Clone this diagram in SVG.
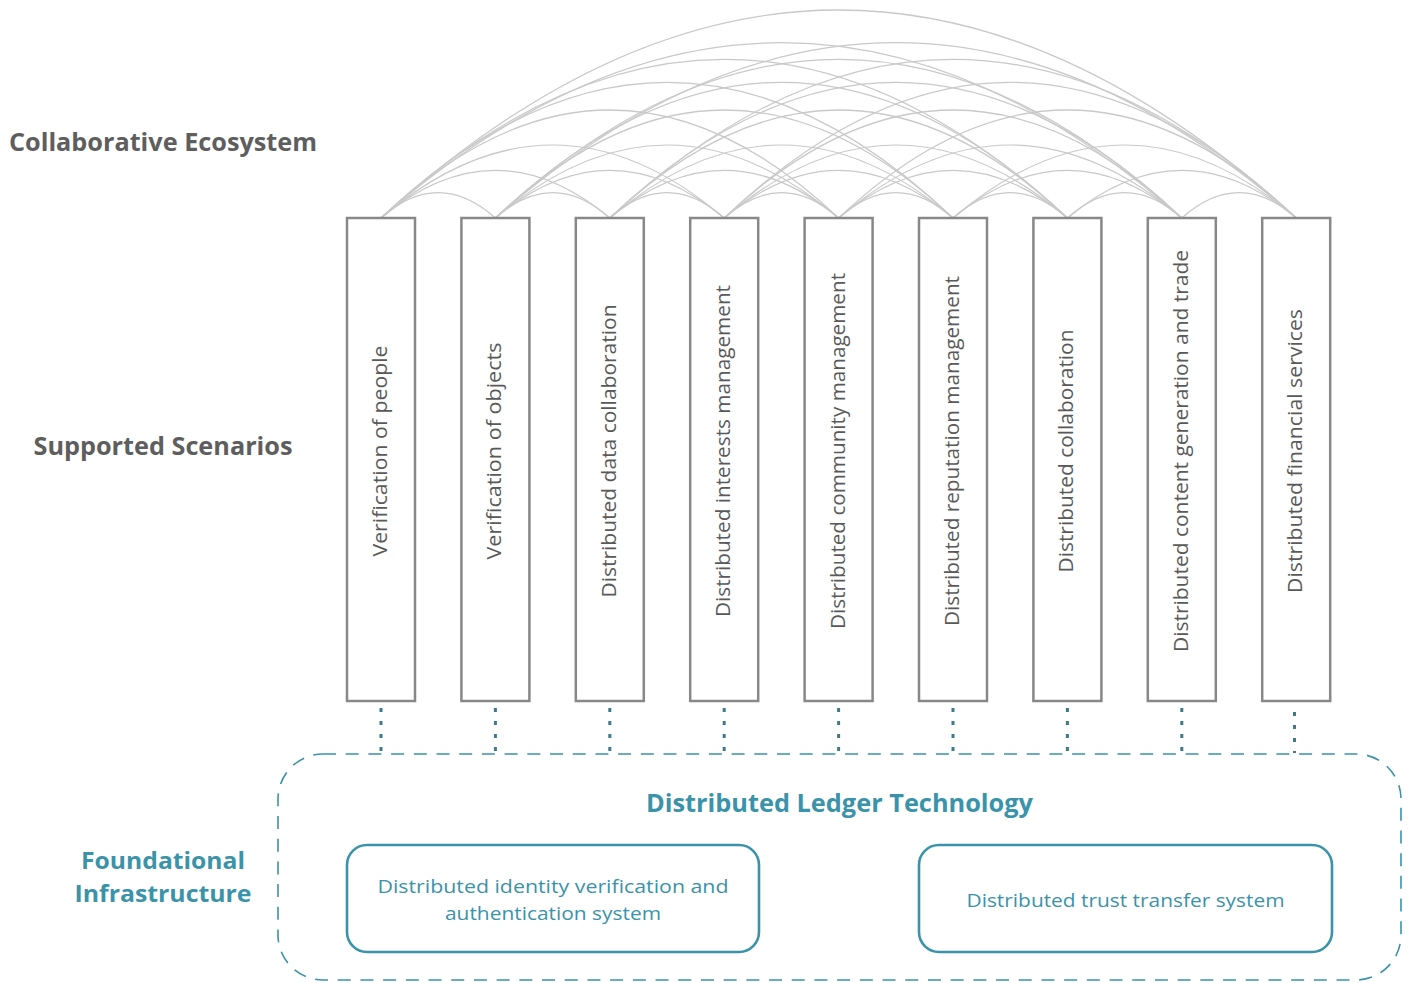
<svg xmlns="http://www.w3.org/2000/svg" width="1410" height="983" viewBox="0 0 1410 983">
<style>
.bg{fill:#ffffff}
.arc{fill:none;stroke:#c9c9c9;stroke-width:1.2}
.box{fill:#ffffff;stroke:#888888;stroke-width:2.5}
.btxt{font-family:"Open Sans","Noto Sans",sans-serif;font-size:20px;fill:#595959;text-anchor:middle}
.head{font-family:"Open Sans","Noto Sans",sans-serif;font-size:25px;font-weight:700;fill:#5e5e5e;text-anchor:middle}
.teal{font-family:"Open Sans","Noto Sans",sans-serif;font-size:25px;font-weight:700;fill:#3a93a9;text-anchor:middle}
.found{font-family:"Open Sans","Noto Sans",sans-serif;font-size:23px;font-weight:700;fill:#3a93a9;text-anchor:middle}
.itxt{font-family:"Open Sans","Noto Sans",sans-serif;font-size:19px;fill:#3a93a9;text-anchor:middle}
.dot{stroke:#3d7b8b;stroke-width:3;stroke-dasharray:4 9;fill:none}
.outer{fill:none;stroke:#3a93a9;stroke-width:1.6;stroke-dasharray:13 9.7}
.inner{fill:#ffffff;stroke:#3a93a9;stroke-width:2.6}
</style>
<rect class="bg" x="0" y="0" width="1410" height="983"/>

<g id="labels">
<text class="head" x="163" y="151" textLength="308" lengthAdjust="spacingAndGlyphs">Collaborative Ecosystem</text>
<text class="head" x="163" y="455" textLength="259" lengthAdjust="spacingAndGlyphs">Supported Scenarios</text>
<text class="found" x="163" y="869" textLength="164" lengthAdjust="spacingAndGlyphs">Foundational</text>
<text class="found" x="163" y="902" textLength="177" lengthAdjust="spacingAndGlyphs">Infrastructure</text>
</g>

<g id="connectors">
<path class="arc" d="M381 218 Q438.2 167.4 495.4 218"/>
<path class="arc" d="M495.4 218 Q552.6 167.4 609.8 218"/>
<path class="arc" d="M609.8 218 Q667 167.4 724.2 218"/>
<path class="arc" d="M724.2 218 Q781.4 167.4 838.6 218"/>
<path class="arc" d="M838.6 218 Q895.8 167.4 953 218"/>
<path class="arc" d="M953 218 Q1010.2 167.4 1067.4 218"/>
<path class="arc" d="M1067.4 218 Q1124.6 167.4 1181.8 218"/>
<path class="arc" d="M1181.8 218 Q1239 167.4 1296.2 218"/>

<path class="arc" d="M381 218 Q495.4 122.6 609.8 218"/>
<path class="arc" d="M495.4 218 Q609.8 122.6 724.2 218"/>
<path class="arc" d="M609.8 218 Q724.2 122.6 838.6 218"/>
<path class="arc" d="M724.2 218 Q838.6 122.6 953 218"/>
<path class="arc" d="M838.6 218 Q953 122.6 1067.4 218"/>
<path class="arc" d="M953 218 Q1067.4 122.6 1181.8 218"/>
<path class="arc" d="M1067.4 218 Q1181.8 122.6 1296.2 218"/>

<path class="arc" d="M381 218 Q552.6 72 724.2 218"/>
<path class="arc" d="M495.4 218 Q667 72 838.6 218"/>
<path class="arc" d="M609.8 218 Q781.4 72 953 218"/>
<path class="arc" d="M724.2 218 Q895.8 72 1067.4 218"/>
<path class="arc" d="M838.6 218 Q1010.2 72 1181.8 218"/>
<path class="arc" d="M953 218 Q1124.6 72 1296.2 218"/>

<path class="arc" d="M381 218 Q609.8 2 838.6 218"/>
<path class="arc" d="M495.4 218 Q724.2 2 953 218"/>
<path class="arc" d="M609.8 218 Q838.6 2 1067.4 218"/>
<path class="arc" d="M724.2 218 Q953 2 1181.8 218"/>
<path class="arc" d="M838.6 218 Q1067.4 2 1296.2 218"/>

<path class="arc" d="M381 218 Q667 -53.4 953 218"/>
<path class="arc" d="M495.4 218 Q781.4 -53.4 1067.4 218"/>
<path class="arc" d="M609.8 218 Q895.8 -53.4 1181.8 218"/>
<path class="arc" d="M724.2 218 Q1010.2 -53.4 1296.2 218"/>

<path class="arc" d="M381 218 Q724.2 -99.4 1067.4 218"/>
<path class="arc" d="M495.4 218 Q838.6 -99.4 1181.8 218"/>
<path class="arc" d="M609.8 218 Q953 -99.4 1296.2 218"/>

<path class="arc" d="M381 218 Q781.4 -132.6 1181.8 218"/>
<path class="arc" d="M495.4 218 Q895.8 -132.6 1296.2 218"/>

<path class="arc" d="M381 218 Q838.6 -198 1296.2 218"/>

<line class="dot" x1="381" y1="708" x2="381" y2="753"/>
<line class="dot" x1="495.4" y1="708" x2="495.4" y2="753"/>
<line class="dot" x1="609.8" y1="708" x2="609.8" y2="753"/>
<line class="dot" x1="724.2" y1="708" x2="724.2" y2="753"/>
<line class="dot" x1="838.6" y1="708" x2="838.6" y2="753"/>
<line class="dot" x1="953" y1="708" x2="953" y2="753"/>
<line class="dot" x1="1067.4" y1="708" x2="1067.4" y2="753"/>
<line class="dot" x1="1181.8" y1="708" x2="1181.8" y2="753"/>
<line class="dot" x1="1294.5" y1="712" x2="1294.5" y2="753"/>
</g>

<g id="scenario-1"><rect class="box" x="347" y="218" width="68" height="483"/><text class="btxt" transform="translate(387,451) rotate(-90)" textLength="211" lengthAdjust="spacingAndGlyphs">Verification of people</text></g>
<g id="scenario-2"><rect class="box" x="461.4" y="218" width="68" height="483"/><text class="btxt" transform="translate(501.4,451) rotate(-90)" textLength="217" lengthAdjust="spacingAndGlyphs">Verification of objects</text></g>
<g id="scenario-3"><rect class="box" x="575.8" y="218" width="68" height="483"/><text class="btxt" transform="translate(615.8,451) rotate(-90)" textLength="293" lengthAdjust="spacingAndGlyphs">Distributed data collaboration</text></g>
<g id="scenario-4"><rect class="box" x="690.2" y="218" width="68" height="483"/><text class="btxt" transform="translate(730.2,451) rotate(-90)" textLength="332" lengthAdjust="spacingAndGlyphs">Distributed interests management</text></g>
<g id="scenario-5"><rect class="box" x="804.6" y="218" width="68" height="483"/><text class="btxt" transform="translate(844.6,451) rotate(-90)" textLength="356" lengthAdjust="spacingAndGlyphs">Distributed community management</text></g>
<g id="scenario-6"><rect class="box" x="919" y="218" width="68" height="483"/><text class="btxt" transform="translate(959,451) rotate(-90)" textLength="350" lengthAdjust="spacingAndGlyphs">Distributed reputation management</text></g>
<g id="scenario-7"><rect class="box" x="1033.4" y="218" width="68" height="483"/><text class="btxt" transform="translate(1073.4,451) rotate(-90)" textLength="243" lengthAdjust="spacingAndGlyphs">Distributed collaboration</text></g>
<g id="scenario-8"><rect class="box" x="1147.8" y="218" width="68" height="483"/><text class="btxt" transform="translate(1187.8,451) rotate(-90)" textLength="402" lengthAdjust="spacingAndGlyphs">Distributed content generation and trade</text></g>
<g id="scenario-9"><rect class="box" x="1262.2" y="218" width="68" height="483"/><text class="btxt" transform="translate(1302.2,451) rotate(-90)" textLength="284" lengthAdjust="spacingAndGlyphs">Distributed financial services</text></g>

<g id="dlt">
<rect class="outer" x="278" y="754" width="1123" height="226" rx="45" ry="45"/>
<text class="teal" x="839.5" y="812" textLength="387" lengthAdjust="spacingAndGlyphs">Distributed Ledger Technology</text>
</g>

<g id="identity-system">
<rect class="inner" x="347" y="845" width="412" height="107" rx="20" ry="20"/>
<text class="itxt"><tspan x="553" y="893" textLength="351" lengthAdjust="spacingAndGlyphs">Distributed identity verification and</tspan><tspan x="553" y="920" textLength="216" lengthAdjust="spacingAndGlyphs">authentication system</tspan></text>
</g>

<g id="trust-system">
<rect class="inner" x="919" y="845" width="413" height="107" rx="20" ry="20"/>
<text class="itxt" x="1125.5" y="907" textLength="318" lengthAdjust="spacingAndGlyphs">Distributed trust transfer system</text>
</g>
</svg>
